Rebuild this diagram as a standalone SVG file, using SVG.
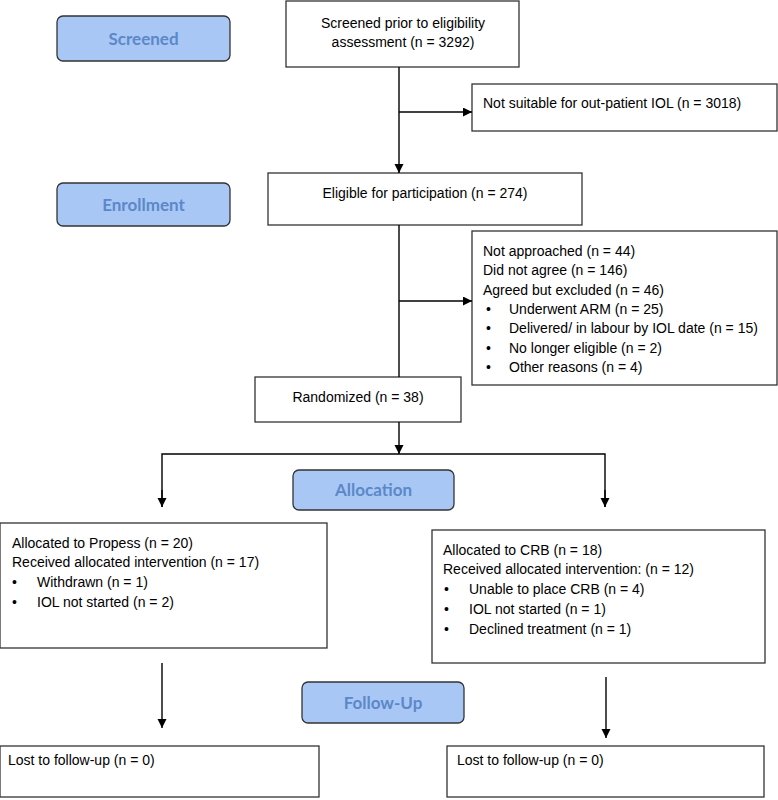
<svg xmlns="http://www.w3.org/2000/svg" width="778" height="800" viewBox="0 0 778 800">
<defs>
<marker id="ah" markerWidth="10" markerHeight="10" refX="9" refY="4.5" orient="auto" markerUnits="userSpaceOnUse">
<path d="M0,0 L9,4.5 L0,9 Z" fill="#000"/>
</marker>
<style>
.box{fill:#fff;stroke:#333;stroke-width:1.3}
.lab{fill:#a9c7f5;stroke:#333;stroke-width:1.3}
.t{font-family:"Liberation Sans",Arial,sans-serif;font-size:14px;fill:#000}
.lt{font-family:Lato,"Open Sans",sans-serif;font-weight:bold;font-size:17px;fill:#5b88c9}
.c{stroke:#000;stroke-width:1.4;fill:none}
</style>
</defs>
<rect width="778" height="800" fill="#fff"/>

<g id="lab-screened"><rect class="lab" x="57" y="16" width="173" height="45" rx="6"/><text class="lt" x="143.5" y="44.5" text-anchor="middle">Screened</text></g>
<g id="lab-enrollment"><rect class="lab" x="57" y="183" width="173" height="43" rx="6"/><text class="lt" x="143.5" y="210.5" text-anchor="middle">Enrollment</text></g>
<g id="lab-allocation"><rect class="lab" x="293" y="470" width="161" height="40" rx="6"/><text class="lt" x="373.5" y="496" text-anchor="middle">Allocation</text></g>
<g id="lab-followup"><rect class="lab" x="302" y="682" width="162" height="41" rx="6"/><text class="lt" x="383" y="708.5" text-anchor="middle">Follow-Up</text></g>

<g id="n-screened"><rect class="box" x="286" y="1" width="233" height="66"/>
<text class="t" x="403" y="27.5" text-anchor="middle">Screened prior to eligibility</text>
<text class="t" x="403" y="46.5" text-anchor="middle">assessment (n = 3292)</text></g>

<g id="n-notsuitable"><rect class="box" x="472" y="84" width="305" height="47"/>
<text class="t" x="483" y="108">Not suitable for out-patient IOL (n = 3018)</text></g>

<g id="n-eligible"><rect class="box" x="268" y="173" width="314" height="52"/>
<text class="t" x="425" y="198" text-anchor="middle">Eligible for participation (n = 274)</text></g>

<g id="n-excluded"><rect class="box" x="472" y="231" width="305" height="154"/>
<text class="t" x="483" y="256">Not approached (n = 44)</text>
<text class="t" x="483" y="275.3">Did not agree (n = 146)</text>
<text class="t" x="483" y="294.6">Agreed but excluded (n = 46)</text>
<text class="t" x="486" y="313.9">•</text><text class="t" x="509" y="313.9">Underwent ARM (n = 25)</text>
<text class="t" x="486" y="333.2">•</text><text class="t" x="509" y="333.2">Delivered/ in labour by IOL date (n = 15)</text>
<text class="t" x="486" y="352.5">•</text><text class="t" x="509" y="352.5">No longer eligible (n = 2)</text>
<text class="t" x="486" y="371.8">•</text><text class="t" x="509" y="371.8">Other reasons (n = 4)</text></g>

<g id="n-randomized"><rect class="box" x="255" y="377" width="206" height="45"/>
<text class="t" x="358" y="402" text-anchor="middle">Randomized (n = 38)</text></g>

<g id="n-propess"><rect class="box" x="0" y="523" width="327" height="125"/>
<text class="t" x="12" y="548">Allocated to Propess (n = 20)</text>
<text class="t" x="12" y="567.3">Received allocated intervention (n = 17)</text>
<text class="t" x="12" y="587">•</text><text class="t" x="37" y="587">Withdrawn (n = 1)</text>
<text class="t" x="12" y="606.5">•</text><text class="t" x="37" y="606.5">IOL not started (n = 2)</text></g>

<g id="n-crb"><rect class="box" x="432" y="530" width="333" height="133"/>
<text class="t" x="443" y="555">Allocated to CRB (n = 18)</text>
<text class="t" x="443" y="574.3">Received allocated intervention: (n = 12)</text>
<text class="t" x="444" y="594">•</text><text class="t" x="469" y="594">Unable to place CRB (n = 4)</text>
<text class="t" x="444" y="614">•</text><text class="t" x="469" y="614">IOL not started (n = 1)</text>
<text class="t" x="444" y="634">•</text><text class="t" x="469" y="634">Declined treatment (n = 1)</text></g>

<g id="n-lost-left"><rect class="box" x="0" y="746" width="319" height="51"/>
<text class="t" x="8" y="765">Lost to follow-up (n = 0)</text></g>

<g id="n-lost-right"><rect class="box" x="447" y="746" width="317" height="51"/>
<text class="t" x="457" y="765">Lost to follow-up (n = 0)</text></g>

<g id="connectors">
<path class="c" d="M399,67 V173" marker-end="url(#ah)"/>
<path class="c" d="M399,112 H472" marker-end="url(#ah)"/>
<path class="c" d="M399,225 V377"/>
<path class="c" d="M399,301 H472" marker-end="url(#ah)"/>
<path class="c" d="M399,422 V454" marker-end="url(#ah)"/>
<path class="c" d="M162,507 V454 H605 V507" />
<path class="c" d="M162,490 V507" marker-end="url(#ah)"/>
<path class="c" d="M605,490 V507" marker-end="url(#ah)"/>
<path class="c" d="M162,663 V728" marker-end="url(#ah)"/>
<path class="c" d="M606,677 V738" marker-end="url(#ah)"/>
</g>
</svg>
